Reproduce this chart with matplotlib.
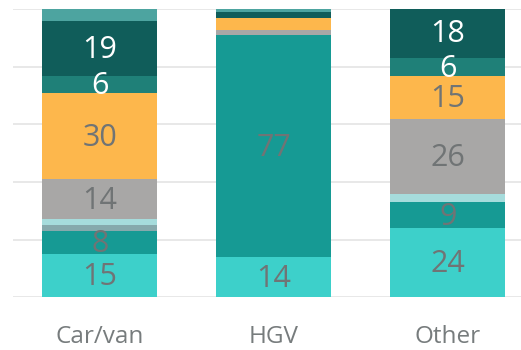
import matplotlib.pyplot as plt
import numpy as np

plt.rcParams['font.family'] = ['Open Sans', 'DejaVu Sans']

# vehicle types and share of each component (bottom to top), in percent
categories = ["Car/van", "HGV", "Other"]
turquoise = [15, 14, 24]
teal = [8, 77, 9]
grey_blue = [2, 0, 0]
light_blue = [2, 0, 3]
grey = [14, 2, 26]
amber = [30, 4, 15]
mid_teal = [6, 0, 6]
dark_teal = [19, 2, 18]
top_teal = [4, 1, 0]

series = [turquoise, teal, grey_blue, light_blue, grey, amber, mid_teal, dark_teal, top_teal]
colors = ["#3DD0CA", "#169A94", "#86A9AC", "#A6DCDC", "#A8A7A6",
          "#FDB74C", "#1F8078", "#105D5A", "#4DA4A0"]
text_colors = ["#707475"] * 6 + ["white", "white", "white"]

fig = plt.figure(figsize=(5.21, 3.5), dpi=100)
ax = fig.add_axes([0.0244, 0.1514, 0.9756, 0.8215])

x = np.arange(len(categories))
bottom = np.zeros(len(categories))
for vals, col, tcol in zip(series, colors, text_colors):
    vals = np.array(vals, dtype=float)
    ax.bar(x, vals, bottom=bottom, width=0.66, color=col, zorder=2)
    for xi, v, b in zip(x, vals, bottom):
        if v >= 6:
            ax.text(xi, b + v / 2 - 0.6, f"{v:g}", ha="center", va="center",
                    fontsize=22, color=tcol, zorder=3)
    bottom += vals

ax.set_xlim(-0.5, 2.42)
ax.set_ylim(0, 100)
ax.set_yticks(np.arange(0, 101, 20))
ax.yaxis.grid(True, color="#E4E4E4", linewidth=1.2, zorder=0)
ax.set_yticklabels([])
ax.set_xticks(x)
ax.set_xticklabels(categories, fontsize=17.5, color="#777C7D")
ax.tick_params(axis="both", length=0)
ax.tick_params(axis="x", pad=20)
for s in ax.spines.values():
    s.set_visible(False)

fig.savefig("out.png", dpi=100)
